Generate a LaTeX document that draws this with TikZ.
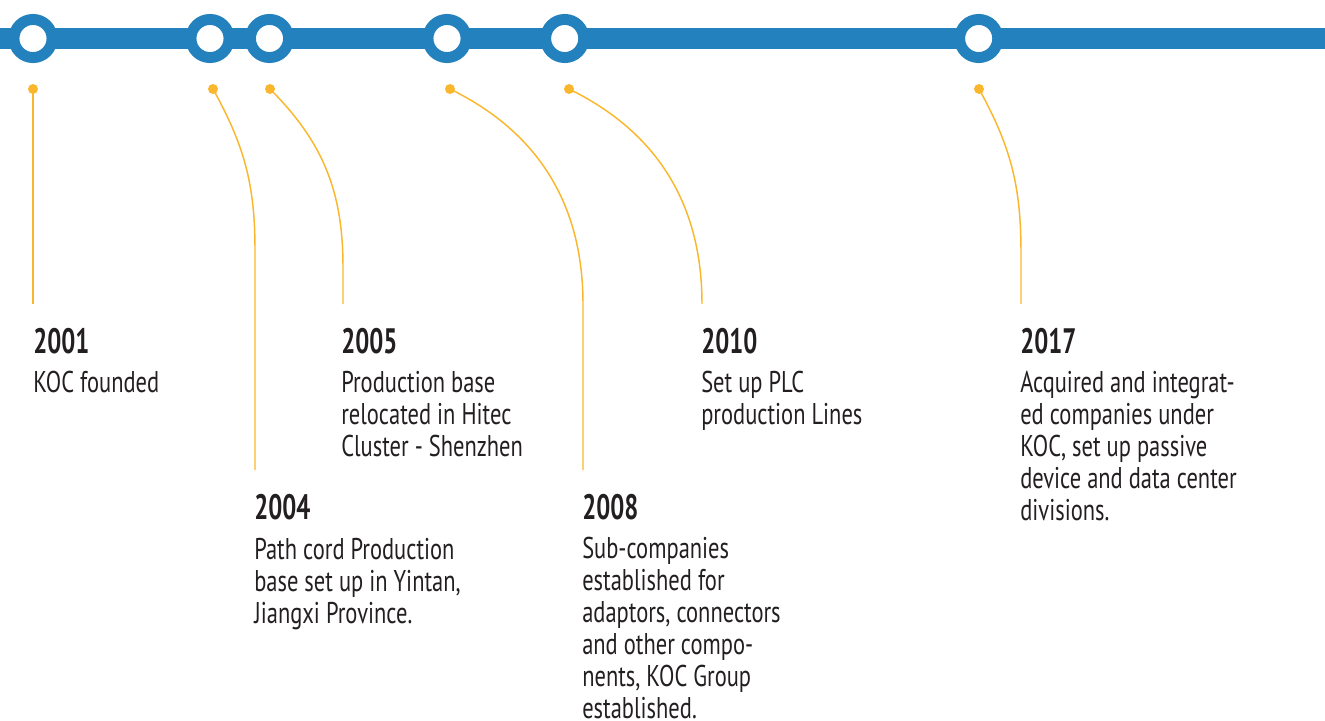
\documentclass[tikz,border=0pt]{standalone}
\usepackage{fontspec}
\setmainfont{PT Sans}[FakeStretch=0.75, BoldFeatures={FakeStretch=0.70}]
\usepackage{tikz}
\usetikzlibrary{positioning}
\definecolor{timelineblue}{RGB}{35,129,190}
\definecolor{markeryellow}{RGB}{250,183,45}
\definecolor{textdark}{RGB}{35,31,32}

\begin{document}
\begin{tikzpicture}[x=0.75pt, y=0.75pt,
    ring/.style={circle, draw=timelineblue, line width=8.2pt, fill=white, minimum size=28.6pt, inner sep=0pt},
    dot/.style={circle, fill=markeryellow, minimum size=7.5pt, inner sep=0pt},
    link/.style={draw=markeryellow, line width=1.1pt},
    year/.style={font=\fontsize{26.5}{30}\selectfont\bfseries, text=textdark, anchor=base west, inner sep=0pt},
    body/.style={font=\fontsize{22.5}{24}\selectfont, text=textdark, align=left, anchor=north west, inner sep=0pt}]
    \useasboundingbox (0,0) rectangle (1325,-721);

    % Timeline bar
    \coordinate (barl) at (0,-38.5);
    \coordinate (barr) at (1325,-38.5);
    \draw[timelineblue, line width=15.75pt] (barl) -- (barr);

    % Rings on the bar and dots below them
    \foreach \yr/\rx/\dx in {2001/33/33, 2004/210/213, 2005/269.5/270, 2008/447/450, 2010/564.7/569, 2017/978.7/979} {
        \node[ring] (r\yr) at (\rx,-38.5) {};
        \node[dot] (d\yr) at (\dx,-89) {};
    }

    % Bends and ends of the leader lines
    \coordinate (e2001) at (33,-304);
    \coordinate (k2004) at (255,-250);
    \coordinate (e2004) at (255,-470);
    \coordinate (k2005) at (343,-267);
    \coordinate (e2005) at (343,-304);
    \coordinate (k2008) at (583,-304);
    \coordinate (e2008) at (583,-470);
    \coordinate (e2010) at (702,-304);
    \coordinate (k2017) at (1021,-253);
    \coordinate (e2017) at (1021,-304);

    % Leader lines
    \draw[link] (d2001.center) -- (e2001);
    \draw[link] (d2004.center) to[out=-61, in=90] (k2004) -- (e2004);
    \draw[link] (d2005.center) to[out=-45, in=90] (k2005) -- (e2005);
    \draw[link] (d2008.center) to[out=-26, in=90] (k2008) -- (e2008);
    \draw[link] (d2010.center) to[out=-26, in=90] (e2010);
    \draw[link] (d2017.center) to[out=-61, in=90] (k2017) -- (e2017);

    % Years and texts
    \node[year] (y2001) at (33,-353) {2001};
    \node[body] (t2001) at (33,-371) {KOC founded};
    \node[year] (y2004) at (254,-519) {2004};
    \node[body] (t2004) at (254,-538) {Path cord Production\\base set up in Yintan,\\Jiangxi Province.};
    \node[year] (y2005) at (341,-353) {2005};
    \node[body] (t2005) at (341,-371) {Production base\\relocated in Hitec\\Cluster - Shenzhen};
    \node[year] (y2008) at (582,-519) {2008};
    \node[body] (t2008) at (582,-537) {Sub-companies\\established for\\adaptors, connectors\\and other compo-\\nents, KOC Group\\established.};
    \node[year] (y2010) at (701,-353) {2010};
    \node[body] (t2010) at (701,-371) {Set up PLC\\production Lines};
    \node[year] (y2017) at (1020,-353) {2017};
    \node[body] (t2017) at (1020,-371) {Acquired and integrat-\\ed companies under\\KOC, set up passive\\device and data center\\divisions.};
\end{tikzpicture}
\end{document}
